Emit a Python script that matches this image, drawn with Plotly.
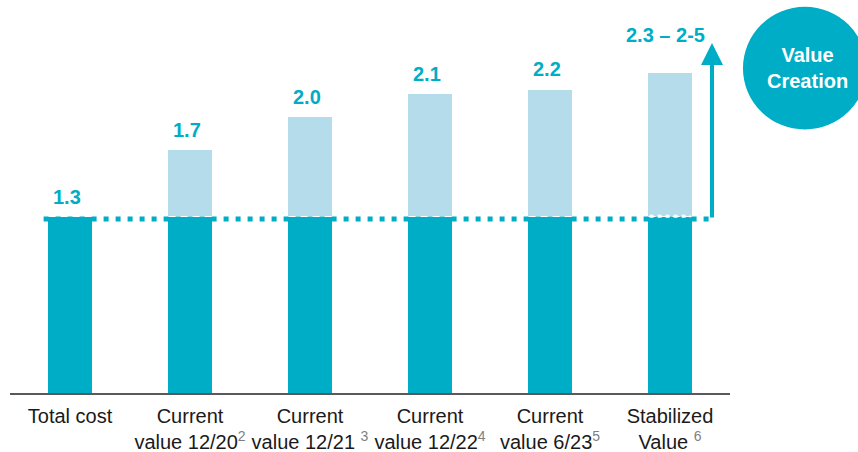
import plotly.graph_objects as go

categories = ["Total cost", "Current value 12/20", "Current value 12/21",
              "Current value 12/22", "Current value 6/23", "Stabilized Value"]
tick_labels = [
    "Total cost",
    "Current<br>value 12/20<sup><span style='color:#7f7f7f'>2</span></sup>",
    "Current<br>value 12/21 <sup><span style='color:#7f7f7f'>3</span></sup>",
    "Current<br>value 12/22<sup><span style='color:#7f7f7f'>4</span></sup>",
    "Current<br>value 6/23<sup><span style='color:#7f7f7f'>5</span></sup>",
    "Stabilized<br>Value <sup><span style='color:#7f7f7f'>6</span></sup>",
]
base_cost = [1.3, 1.3, 1.3, 1.3, 1.3, 1.3]
total_value = [1.3, 1.795, 2.04, 2.21, 2.245, 2.365]
value_labels = ["1.3", "1.7", "2.0", "2.1", "2.2", "2.3 – 2-5"]

DARK = "#00adc6"
LIGHT = "#b4dcea"
FONT = "Liberation Sans, Arial, sans-serif"

x_idx = list(range(len(categories)))
uplift = [t - b for t, b in zip(total_value, base_cost)]

fig = go.Figure()
fig.add_trace(go.Bar(x=x_idx, y=base_cost, marker=dict(color=DARK, line=dict(color="white", width=1)),
                     hoverinfo="skip"))
fig.add_trace(go.Bar(x=x_idx, y=uplift, marker=dict(color=LIGHT, line=dict(color="white", width=1)),
                     hoverinfo="skip"))

# dotted reference line at total cost level
fig.add_shape(type="line", xref="x", yref="y", x0=-0.22, x1=5.38, y0=base_cost[0] - 0.015,
              y1=base_cost[0] - 0.015, line=dict(color=DARK, width=5, dash="5px,7px"), layer="above")
# white dashes where the line crosses the stabilized bar
fig.add_shape(type="line", xref="x", yref="y", x0=4.83, x1=5.17, y0=base_cost[0] + 0.005,
              y1=base_cost[0] + 0.005, line=dict(color="white", width=3, dash="4px,4px"), layer="above")

# value labels
for i, (t, lab) in enumerate(zip(total_value, value_labels)):
    last = i == len(value_labels) - 1
    fig.add_annotation(x=i, y=t, text=f"<b>{lab}</b>", showarrow=False, yanchor="middle",
                       xanchor="center", yshift=38 if last else 20, xshift=-5 if last else -3,
                       font=dict(family=FONT, size=20, color=DARK))

# value creation arrow
fig.add_annotation(x=5.35, y=2.585, ax=5.35, ay=base_cost[0] - 0.015, axref="x", ayref="y",
                   xref="x", yref="y", text="", showarrow=True, arrowhead=2, arrowsize=1.1,
                   arrowwidth=4, arrowcolor=DARK, standoff=0)

# Value Creation circle
fig.add_shape(type="circle", xref="paper", yref="paper", x0=1.018, x1=1.19, y0=0.72, y1=1.055,
              fillcolor=DARK, line=dict(width=0))
fig.add_annotation(xref="paper", yref="paper", x=1.107, y=0.887, xanchor="center", yanchor="middle",
                   text="<b>Value<br>Creation</b>", showarrow=False,
                   font=dict(family=FONT, size=20, color="white"))

fig.update_layout(
    width=858, height=452, barmode="stack", bargap=0.617, showlegend=False,
    margin=dict(l=10, r=128, t=27, b=59),
    paper_bgcolor="white", plot_bgcolor="white",
    font=dict(family=FONT, size=20, color="#1a1a1a"),
    xaxis=dict(tickmode="array", tickvals=x_idx, ticktext=tick_labels, range=[-0.5, 5.5],
               showline=True, linecolor="#595959", linewidth=2, ticks="", showgrid=False,
               zeroline=False, ticklabelstandoff=4, automargin=False,
               tickfont=dict(family=FONT, size=20, color="#1a1a1a")),
    yaxis=dict(range=[0, 2.703], visible=False, showgrid=False, zeroline=False),
)
fig.write_html("out.html", config={"displayModeBar": False},
               post_script="document.body.style.margin='0';document.body.style.overflow='hidden';")
